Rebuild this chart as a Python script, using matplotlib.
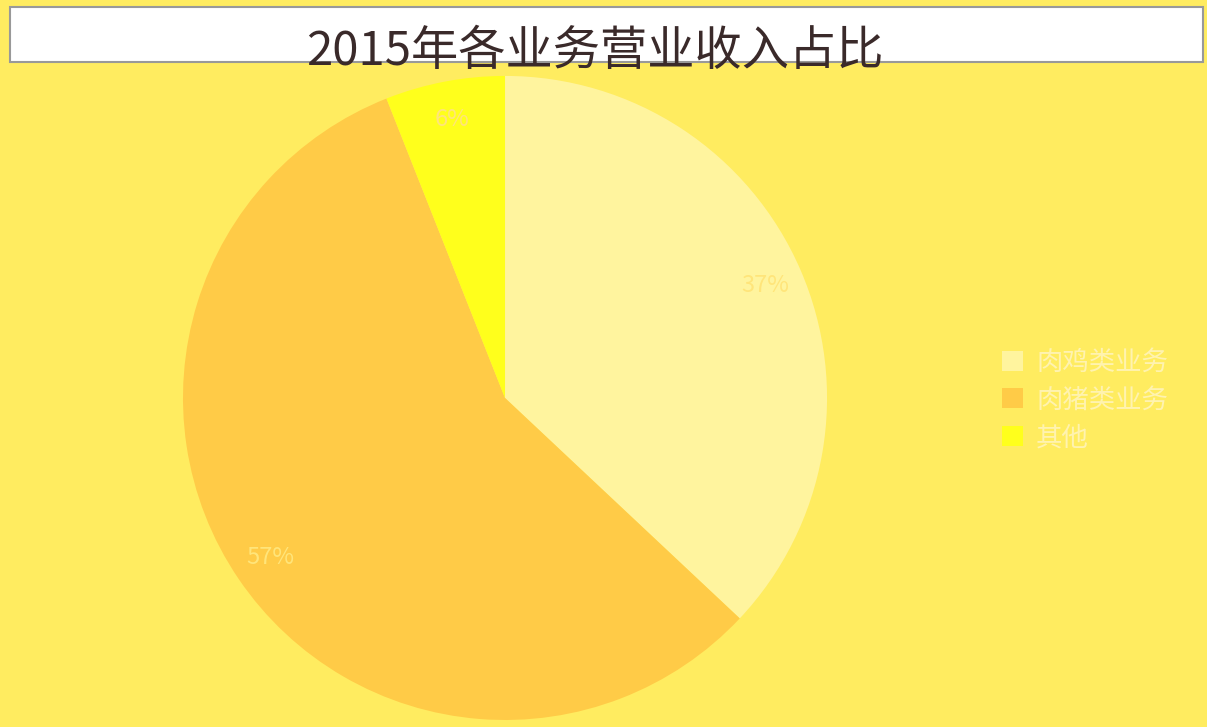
import matplotlib.pyplot as plt
from matplotlib.patches import Rectangle

plt.rcParams['font.family'] = ['Noto Sans CJK SC', 'DejaVu Sans']

title = "2015年各业务营业收入占比"
categories = ["肉鸡类业务", "肉猪类业务", "其他"]
shares = [37, 57, 6]
colors = ["#FFF49E", "#FFCB47", "#FFFF1C"]

fig = plt.figure(figsize=(12.07, 7.27), dpi=100, facecolor="#FFEC60")

# white header strip with grey frame
fig.patches.append(Rectangle((10 / 1207, 1 - 62 / 727), 1193 / 1207, 55 / 727,
                             transform=fig.transFigure, facecolor="white",
                             edgecolor="#999999", linewidth=1.5, zorder=0))
fig.text(595 / 1207, 1 - 52 / 727, title, ha="center", va="center",
         fontsize=34, color="#3a2a2a")

ax = fig.add_axes([0.1516, 0.0096, 0.5336, 0.886])
ax.set_facecolor("none")
wedges, texts, autotexts = ax.pie(
    shares, colors=colors, startangle=90, counterclock=False,
    autopct="%d%%", pctdistance=0.88,
    wedgeprops=dict(linewidth=0),
    textprops=dict(color="#FFE57A", fontsize=17))
ax.set_xlim(-1, 1)
ax.set_ylim(-1, 1)
ax.set_aspect("equal")

leg = fig.legend(wedges, categories, loc="center left",
                 bbox_to_anchor=(978 / 1207, 1 - 400 / 727), frameon=False,
                 fontsize=19, handlelength=0.8, handleheight=0.8,
                 labelspacing=0.4, handletextpad=0.5)
for t in leg.get_texts():
    t.set_color("#FFF3B0")

fig.savefig("out.png", dpi=100, facecolor=fig.get_facecolor())
